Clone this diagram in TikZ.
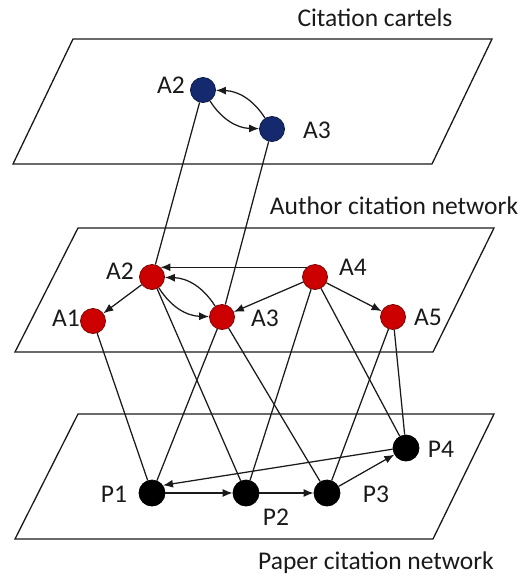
\documentclass[tikz,border=0pt]{standalone}
\usepackage{fontspec}
\setmainfont{Carlito}
\usetikzlibrary{arrows.meta}
\definecolor{nodeblue}{HTML}{14296E}
\definecolor{nodeblueline}{HTML}{0A1A45}
\definecolor{nodered}{HTML}{CC0000}
\definecolor{noderedline}{HTML}{7A0A0A}
\definecolor{ink}{HTML}{1A1A1A}
\begin{document}
\begin{tikzpicture}[x=1pt,y=-1pt,
  plane/.style={draw=ink, line width=1.3pt, line join=miter},
  bnode/.style={circle, fill=nodeblue, draw=nodeblueline, line width=0.8pt, minimum size=25pt, inner sep=0pt},
  rnode/.style={circle, fill=nodered, draw=noderedline, line width=0.8pt, minimum size=25pt, inner sep=0pt},
  knode/.style={circle, fill=black, draw=black, line width=0.8pt, minimum size=26pt, inner sep=0pt},
  lbl/.style={font=\fontsize{25.5}{30}\selectfont, text=ink, inner sep=0pt},
  conn/.style={draw=ink, line width=1.25pt},
  arr/.style={conn, -{Latex[length=10pt,width=8pt]}},
]
\useasboundingbox (0,0) rectangle (525,576);
% planes
\draw[plane] (73,39) -- (492,39) -- (432,164) -- (13,164) -- cycle;
\draw[plane] (78,228) -- (494,228) -- (433,352) -- (15,352) -- cycle;
\draw[plane] (78,414) -- (494,414) -- (433,539) -- (15,539) -- cycle;
% titles
\node[lbl] (t1) at (375,18) {Citation cartels};
\node[lbl] (t2) at (394,206) {Author citation network};
\node[lbl] (t3) at (376,563) {Paper citation network};
% nodes
\node[bnode] (tA2) at (203,90) {};
\node[bnode] (tA3) at (272,129) {};
\node[rnode] (A2) at (152,277) {};
\node[rnode] (A4) at (315,277) {};
\node[rnode] (A1) at (93,321) {};
\node[rnode] (A3) at (222,317) {};
\node[rnode] (A5) at (393,317) {};
\node[knode] (P1) at (152,493) {};
\node[knode] (P2) at (246,493) {};
\node[knode] (P3) at (327,493) {};
\node[knode] (P4) at (406,448) {};
% labels
\node[lbl] (ltA2) at (171,85) {A2};
\node[lbl] (ltA3) at (317,130) {A3};
\node[lbl] (lA2) at (120,271) {A2};
\node[lbl] (lA4) at (353,267) {A4};
\node[lbl] (lA1) at (66,318) {A1};
\node[lbl] (lA3) at (265,318) {A3};
\node[lbl] (lA5) at (428,317) {A5};
\node[lbl] (lP1) at (114,494) {P1};
\node[lbl] (lP2) at (276,517) {P2};
\node[lbl] (lP3) at (376,494) {P3};
\node[lbl] (lP4) at (441,449) {P4};
% top layer edges
\draw[arr] (tA2) to[bend right=28] (tA3);
\draw[arr] (tA3) to[bend right=28] (tA2);
% middle layer edges
\draw[arr] (A4.131) -- (A2.49);
\draw[arr] (A2) -- (A1);
\draw[arr] (A2) to[bend right=28] (A3);
\draw[arr] (A3) to[bend right=28] (A2);
\draw[arr] (A4) -- (A3);
\draw[arr] (A4) -- (A5);
% inter-layer lines
\draw[conn] (tA2) -- (A2);
\draw[conn] (tA3) -- (A3);
\draw[conn] (A1) -- (P1);
\draw[conn] (A3) -- (P1);
\draw[conn] (A2) -- (P2);
\draw[conn] (A4) -- (P2);
\draw[conn] (A3) -- (P3);
\draw[conn] (A5) -- (P3);
\draw[conn] (A4) -- (P4);
\draw[conn] (A5) -- (P4);
% bottom layer edges
\draw[arr] (P1) -- (P2);
\draw[arr] (P2) -- (P3);
\draw[arr] (P3) -- (P4);
\draw[arr] (P4.185) -- (P1.35);
\end{tikzpicture}
\end{document}
